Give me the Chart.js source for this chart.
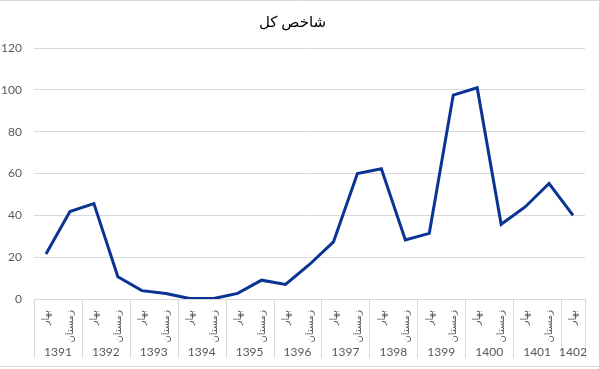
<!DOCTYPE html>
<html>
<head>
<meta charset="utf-8">
<script src="https://cdn.jsdelivr.net/npm/chart.js@4"></script>
<style>
  body { margin: 0; background: #fff; }
  #wrap { width: 599px; height: 369px; position: relative; }
</style>
</head>
<body>
<div id="wrap"><canvas id="myChart" width="599" height="369"></canvas></div>
<script>
const title = "شاخص کل";
const years = ["1391", "1392", "1393", "1394", "1395", "1396", "1397", "1398", "1399", "1400", "1401", "1402"];
const seasons = [
  "بهار", "زمستان", "بهار", "زمستان", "بهار", "زمستان", "بهار", "زمستان",
  "بهار", "زمستان", "بهار", "زمستان", "بهار", "زمستان", "بهار", "زمستان",
  "بهار", "زمستان", "بهار", "زمستان", "بهار", "زمستان", "بهار"
];
const values = [21.5, 41.8, 45.6, 10.6, 4, 2.6, 0.2, 0.2, 2.7, 9, 7, 16.5, 27.3, 60, 62.3, 28.2, 31.4, 97.5, 101, 35.7, 44, 55.2, 40];

const textFont = "Lato, 'DejaVu Sans', sans-serif";
const gridColor = "#d9d9d9";

// year row + separators under the season labels
const yearAxis = {
  id: "yearAxis",
  afterDraw(chart) {
    const x = chart.scales.x;
    const ctx = chart.ctx;
    const top = chart.chartArea.bottom;
    const n = seasons.length;
    const half = (x.getPixelForValue(1) - x.getPixelForValue(0)) / 2;
    ctx.save();
    ctx.strokeStyle = gridColor;
    ctx.lineWidth = 1;
    ctx.fillStyle = "#595959";
    ctx.font = "12px " + textFont;
    ctx.textAlign = "center";
    ctx.textBaseline = "middle";
    years.forEach((y, i) => {
      const a = i * 2;
      const b = Math.min(a + 1, n - 1);
      const left = x.getPixelForValue(a) - half;
      const right = x.getPixelForValue(b) + half;
      ctx.beginPath();
      ctx.moveTo(Math.round(left) + 0.5, top);
      ctx.lineTo(Math.round(left) + 0.5, 358);
      if (b === n - 1) {
        ctx.moveTo(Math.round(right) + 0.5, top);
        ctx.lineTo(Math.round(right) + 0.5, 358);
      }
      ctx.stroke();
      ctx.fillText(y, (left + right) / 2, 352);
    });
    // chart frame lines
    ctx.beginPath();
    ctx.moveTo(0, 0.5);
    ctx.lineTo(chart.width, 0.5);
    ctx.moveTo(0, 366.5);
    ctx.lineTo(chart.width, 366.5);
    ctx.stroke();
    ctx.restore();
  }
};

const ctx = document.getElementById("myChart").getContext("2d");
const myChart = new Chart(ctx, {
  type: "line",
  data: {
    labels: seasons,
    datasets: [
      {
        label: title,
        data: values,
        borderColor: "#0a3494",
        borderWidth: 3,
        pointRadius: 0,
        tension: 0,
        fill: false,
      },
    ],
  },
  options: {
    responsive: false,
    animation: false,
    layout: { padding: { right: 14, left: 0, bottom: 0 } },
    scales: {
      x: {
        offset: true,
        grid: { display: false },
        border: { display: true, color: gridColor },
        ticks: {
          autoSkip: false,
          minRotation: 90,
          maxRotation: 90,
          padding: 3,
          color: "#595959",
          font: { size: 10, family: textFont },
        },
        afterFit: (s) => { s.height = 70; },
      },
      y: {
        min: 0,
        max: 120,
        ticks: {
          stepSize: 20,
          padding: 12,
          color: "#595959",
          font: { size: 12, family: textFont },
        },
        grid: { color: gridColor, drawTicks: false },
        border: { display: false },
        afterFit: (s) => { s.width = 34; },
      },
    },
    plugins: {
      legend: { display: false },
      tooltip: { enabled: false },
      title: {
        display: true,
        text: title,
        color: "#000",
        font: { size: 15, weight: "normal", family: textFont, lineHeight: 1.2 },
        padding: { top: 13, bottom: 17 },
      },
    },
  },
  plugins: [yearAxis],
});
</script>
</body>
</html>
